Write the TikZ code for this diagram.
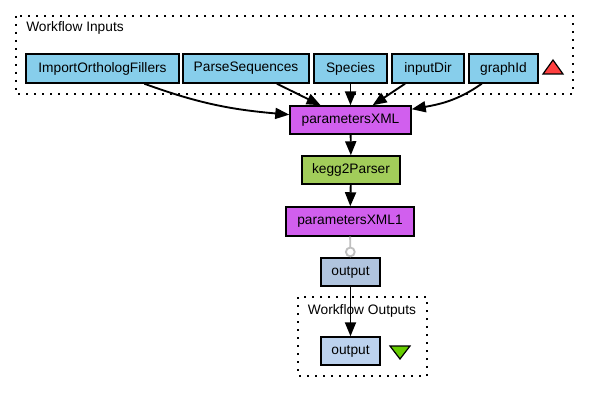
\documentclass[tikz,border=0pt]{standalone}
\usepackage{fontspec}
\setmainfont{Liberation Sans}
\usetikzlibrary{arrows.meta}
\usepackage{xcolor}

\definecolor{inputblue}{HTML}{87CEEB}
\definecolor{xmlpink}{HTML}{D15FEE}
\definecolor{beangreen}{HTML}{A2CD5A}
\definecolor{outsteel}{HTML}{B0C4DE}
\definecolor{portblue}{HTML}{BCD2EE}
\definecolor{trired}{HTML}{FF4040}
\definecolor{trigreen}{HTML}{66CD00}

\tikzset{
  proc/.style={draw, line width=1.1pt, inner sep=0pt, font=\fontsize{10.3}{12}\selectfont},
  cluster/.style={line width=1.5pt, dash pattern=on 1.5pt off 4.5pt},
  link/.style={-{Triangle[length=10.5pt,width=8.25pt]}, line width=1.4pt},
  label/.style={font=\fontsize{10.3}{12}\selectfont, inner sep=0pt}
}

\begin{document}
\begin{tikzpicture}[x=0.75pt,y=0.75pt]
\useasboundingbox (0,0) rectangle (589,-403);

% Clusters
\draw[cluster] (16,-16) rectangle (573,-94);
\node[label, anchor=west] (inLbl) at (26,-28) {Workflow Inputs};
\draw[cluster] (298,-297) rectangle (427,-376);
\node[label] (outLbl) at (362,-311) {Workflow Outputs};

% Workflow inputs
\foreach \name/\x/\w/\txt in {iof/102.5/153/ImportOrthologFillers, parseSeq/246/126/ParseSequences,
    species/350.5/73/Species, inputDir/428/72/inputDir, graphId/503.5/69/graphId} {
    \node[proc, fill=inputblue, minimum width=\w*0.75pt, minimum height=21.75pt] (\name) at (\x,-68.5) {\txt};
}

% Processors
\node[proc, fill=xmlpink, minimum width=90.75pt, minimum height=21pt] (paramXML) at (350.5,-120) {parametersXML};
\node[proc, fill=beangreen, minimum width=73.5pt, minimum height=21pt] (kegg) at (351,-170) {kegg2Parser};
\node[proc, fill=xmlpink, minimum width=96pt, minimum height=21.75pt] (paramXML1) at (350,-221.5) {parametersXML1};
\node[proc, fill=outsteel, minimum width=44.25pt, minimum height=21pt] (outProc) at (350.5,-272) {output};

% Workflow output
\node[proc, fill=portblue, minimum width=44.25pt, minimum height=21pt] (outPort) at (350.5,-351) {output};

% Triangles
\draw[fill=trired, line width=0.9pt] (543,-74) -- (563,-74) -- (553,-60) -- cycle;
\draw[fill=trigreen, line width=0.9pt] (390,-346) -- (410,-346) -- (400,-359) -- cycle;

% Links
\draw[link] (iof) to[out=-20, in=175] (paramXML);
\draw[link] (parseSeq) -- (paramXML);
\draw[link] (species) -- (paramXML);
\draw[link] (inputDir) -- (paramXML);
\draw[link] (graphId) to[out=215, in=10] (paramXML);
\draw[link] (paramXML) -- (kegg);
\draw[link] (kegg) -- (paramXML1);
\draw[gray!50, line width=1.4pt, -{Circle[open, length=8pt, width=8pt]}] (paramXML1) -- (outProc);
\draw[link] (outProc) -- (outPort);
\end{tikzpicture}
\end{document}
